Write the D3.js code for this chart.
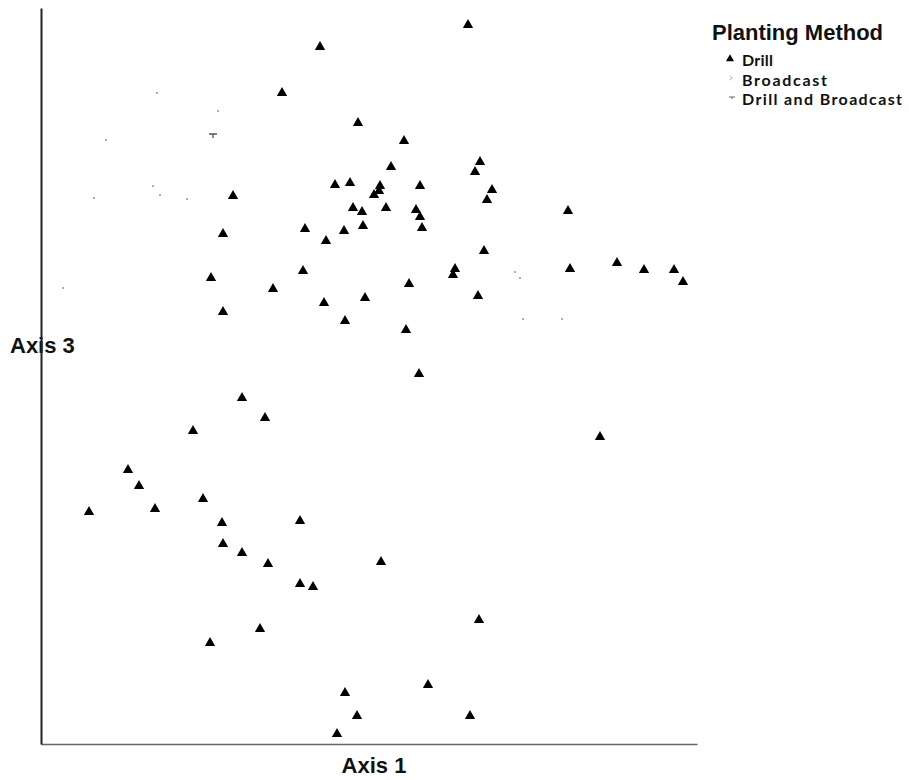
<!DOCTYPE html>
<html>
<head>
<meta charset="utf-8">
<script src="https://cdn.jsdelivr.net/npm/d3@7/dist/d3.min.js"></script>
<style>
  html, body { margin: 0; padding: 0; background: #fff; }
  svg { display: block; }
</style>
</head>
<body>
<script>
// Ordination scores (Axis 1, Axis 3) grouped by planting method
const drillX = [42.7, 27.9, 24.1, 31.7, 36.3, 43.9, 43.4, 35.0, 19.2, 29.4, 30.9, 33.9, 37.9, 45.1, 44.6, 33.3, 33.8, 31.2, 32.1, 34.5,
  37.5, 37.9, 38.1, 32.2, 30.3, 26.4, 28.5, 18.2, 52.7, 44.3, 41.4, 41.2, 26.2, 17.0, 23.2, 36.8, 52.9, 57.6, 60.3, 63.3,
  64.2, 43.7, 32.4, 28.3, 18.2, 30.4, 36.5, 37.8, 20.1, 22.4, 15.2, 55.9, 8.7, 9.8, 16.2, 4.8, 11.4, 18.1, 25.9, 18.2,
  20.1, 22.7, 34.0, 25.9, 27.2, 43.8, 21.9, 16.9, 38.7, 30.4, 31.6, 42.9, 29.6];
const drillY = [71.7, 69.5, 64.9, 61.9, 60.1, 58.0, 57.0, 57.5, 54.6, 55.7, 55.9, 55.6, 55.6, 55.2, 54.2, 54.7, 55.1, 53.4, 53.0, 53.4,
  53.2, 52.5, 51.4, 51.6, 51.1, 51.3, 50.1, 50.8, 53.1, 49.1, 47.3, 46.7, 47.1, 46.4, 45.3, 45.8, 47.3, 47.9, 47.2, 47.2,
  46.0, 44.6, 44.4, 43.9, 43.0, 42.1, 41.2, 36.8, 34.4, 32.4, 31.1, 30.5, 27.2, 25.6, 24.3, 23.0, 23.3, 21.9, 22.1, 19.8,
  18.9, 17.8, 18.0, 15.8, 15.5, 12.2, 11.3, 9.9, 5.7, 4.9, 2.6, 2.6, 0.8];
const broadcastX = [11.6, 17.7, 6.5, 11.2, 5.3, 11.9, 14.6, 2.2, 47.4, 47.9, 48.2, 52.1];
const broadcastY = [64.9, 63.1, 60.2, 55.6, 54.4, 54.7, 54.3, 45.4, 47.0, 46.4, 42.3, 42.3];
const bothX = [17.2];
const bothY = [60.8];

const legendTitle = "Planting Method";
const methods = ["Drill", "Broadcast", "Drill and Broadcast"];
const axisLabels = { x: "Axis 1", y: "Axis 3" };

const W = 909, H = 780;
const svg = d3.select("body").append("svg").attr("width", W).attr("height", H);

const x = d3.scaleLinear().domain([0, 65.6]).range([41, 697]);
const y = d3.scaleLinear().domain([-0.2, 73.4]).range([744, 8]);

const font = "'Liberation Sans', Arial, sans-serif";

// Axis titles (drawn before the axis lines so the vertical axis crosses "Axis 3")
svg.append("text")
  .attr("x", 10).attr("y", 353)
  .attr("font-family", font).attr("font-weight", "bold").attr("font-size", 22)
  .attr("fill", "#111")
  .text(axisLabels.y);
svg.append("text")
  .attr("x", 374).attr("y", 773).attr("text-anchor", "middle")
  .attr("font-family", font).attr("font-weight", "bold").attr("font-size", 22)
  .attr("fill", "#111")
  .text(axisLabels.x);

// Axis lines without ticks
const gx = svg.append("g").attr("transform", `translate(0,${y(-0.2)})`)
  .call(d3.axisBottom(x).tickValues([]).tickSizeOuter(0));
gx.select(".domain").attr("stroke", "#666").attr("stroke-width", 1.5);

const gy = svg.append("g").attr("transform", `translate(${x(0)},0)`)
  .call(d3.axisLeft(y).tickValues([]).tickSizeOuter(0));
gy.select(".domain").attr("stroke", "#222").attr("stroke-width", 2);

// Broadcast: tiny faint dots
svg.append("g").selectAll("circle")
  .data(d3.zip(broadcastX, broadcastY))
  .join("circle")
  .attr("cx", d => x(d[0])).attr("cy", d => y(d[1]))
  .attr("r", 1.1).attr("fill", "#9a9a9a");

// Drill and Broadcast: small T-shaped mark
const tMark = "M-4,0H4M0,0V4";
svg.append("g").selectAll("path")
  .data(d3.zip(bothX, bothY))
  .join("path")
  .attr("transform", d => `translate(${x(d[0])},${y(d[1])})`)
  .attr("d", tMark).attr("fill", "none").attr("stroke", "#555").attr("stroke-width", 1.3);

// Drill: filled black triangles
const tri = d3.symbol().type(d3.symbolTriangle).size(46);
svg.append("g").selectAll("path")
  .data(d3.zip(drillX, drillY))
  .join("path")
  .attr("transform", d => `translate(${x(d[0])},${y(d[1])})`)
  .attr("d", tri).attr("fill", "#000");

// Legend
const lg = svg.append("g");
lg.append("text")
  .attr("x", 712).attr("y", 40)
  .attr("font-family", font).attr("font-weight", "bold").attr("font-size", 22)
  .attr("textLength", 171).attr("lengthAdjust", "spacingAndGlyphs")
  .attr("fill", "#111")
  .text(legendTitle);

const itemY = [66, 86, 105];
const itemW = [31, 85, 160];
methods.forEach((m, i) => {
  lg.append("text")
    .attr("x", 742).attr("y", itemY[i])
    .attr("font-family", "Lato, 'Open Sans', sans-serif").attr("font-weight", "bold").attr("font-size", 16)
    .attr("textLength", itemW[i]).attr("lengthAdjust", "spacing")
    .attr("fill", "#111")
    .text(m);
});
lg.append("path")
  .attr("transform", "translate(730,59)")
  .attr("d", d3.symbol().type(d3.symbolTriangle).size(28)).attr("fill", "#000");
lg.append("path")
  .attr("transform", "translate(731,78)")
  .attr("d", "M-1.5,-2L1.5,0L-1.5,2").attr("fill", "none").attr("stroke", "#aaa").attr("stroke-width", 0.8);
lg.append("path")
  .attr("transform", "translate(732,97)")
  .attr("d", "M-3,0H3M0,0V2").attr("fill", "none").attr("stroke", "#666").attr("stroke-width", 1);
</script>
</body>
</html>
